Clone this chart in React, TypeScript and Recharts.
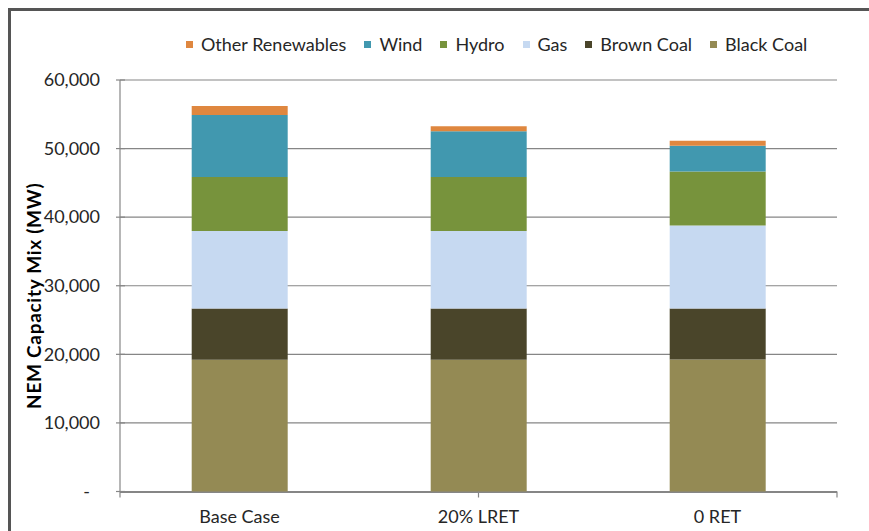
import { BarChart, Bar, XAxis, YAxis, CartesianGrid, Label } from "recharts";

const categories = ["Base Case", "20% LRET", "0 RET"];
const blackCoal = [19200, 19200, 19250];
const brownCoal = [7470, 7470, 7450];
const gas = [11330, 11330, 12070];
const hydro = [7840, 7840, 7890];
const wind = [9040, 6690, 3770];
const otherRenewables = [1320, 730, 710];
const yTicks = [0, 10000, 20000, 30000, 40000, 50000, 60000];
const separatorTicks = [0, 1, 2, 3];

// stack order bottom -> top
const series = [
  { key: "blackCoal", name: "Black Coal", values: blackCoal, color: "#948A54" },
  { key: "brownCoal", name: "Brown Coal", values: brownCoal, color: "#4A452A" },
  { key: "gas", name: "Gas", values: gas, color: "#C6D9F1" },
  { key: "hydro", name: "Hydro", values: hydro, color: "#77933C" },
  { key: "wind", name: "Wind", values: wind, color: "#4198AF" },
  { key: "other", name: "Other Renewables", values: otherRenewables, color: "#DF873F" },
];

const data = categories.map((name, i) => {
  const row: Record<string, string | number> = { name };
  series.forEach((s) => (row[s.key] = s.values[i]));
  return row;
});

const FONT = "Lato, 'Open Sans', sans-serif";
const AXIS_GRAY = "#868686";
const TEXT = "#262626";
const FS = 18;

const formatY = (v: number) => (v === 0 ? "-" : v.toLocaleString("en-US"));

// Excel style "cross" tick mark plus right-aligned label
function YTick(props: any) {
  const { x, y, payload } = props;
  const isZero = payload.value === 0;
  return (
    <g>
      <line x1={x + 16} x2={x + 25} y1={y} y2={y} stroke={AXIS_GRAY} strokeWidth={1.2} />
      <text
        x={x + (isZero ? -10 : 0)}
        y={y}
        dy="0.35em"
        textAnchor="end"
        fontFamily={FONT}
        fontSize={FS}
        fill={TEXT}
      >
        {formatY(payload.value)}
      </text>
    </g>
  );
}

function XTick(props: any) {
  const { x, y, payload } = props;
  return (
    <text x={x} y={y} dy="0.71em" textAnchor="middle" fontFamily={FONT} fontSize={FS} fill={TEXT}>
      {payload.value}
    </text>
  );
}

const NoLabel = () => <g />;

function YTitle(props: any) {
  const { viewBox } = props;
  const cx = viewBox.x + 13;
  const cy = viewBox.y + viewBox.height / 2 + 10;
  return (
    <text
      x={cx}
      y={cy}
      transform={`rotate(-90, ${cx}, ${cy})`}
      textAnchor="middle"
      dominantBaseline="central"
      fontFamily={FONT}
      fontWeight="bold"
      fontSize={19}
      letterSpacing={0.7}
      fill="#000"
    >
      NEM Capacity Mix (MW)
    </text>
  );
}

function ChartLegend() {
  // Excel lists the legend top of stack first
  const items = [...series].reverse();
  return (
    <div
      style={{
        position: "absolute",
        top: 33,
        left: 186,
        display: "flex",
        alignItems: "center",
        fontFamily: FONT,
        fontSize: FS,
        color: TEXT,
        whiteSpace: "nowrap",
      }}
    >
      {items.map((s) => (
        <div key={s.key} style={{ display: "flex", alignItems: "center", marginRight: 18 }}>
          <span style={{ width: 7, height: 7, background: s.color, marginRight: 8, display: "inline-block" }} />
          <span>{s.name}</span>
        </div>
      ))}
    </div>
  );
}

export default function App() {
  return (
    <div style={{ position: "absolute", left: 0, top: 0, width: 869, height: 531, background: "#fff", overflow: "hidden" }}>
      <div
        style={{
          position: "absolute",
          left: 8,
          top: 8,
          right: 0,
          bottom: 0,
          borderTop: "3px solid #555",
          borderLeft: "3px solid #555",
        }}
      />
      <ChartLegend />
      <div style={{ position: "absolute", left: 0, top: 0 }}>
        <BarChart
          width={869}
          height={531}
          data={data}
          margin={{ top: 80, right: 32, bottom: 0, left: 20 }}
          barCategoryGap="30%"
        >
          <CartesianGrid xAxisId="b" vertical={false} stroke={AXIS_GRAY} strokeWidth={1.2} />
          <XAxis
            xAxisId="a"
            type="number"
            domain={[0, 3]}
            ticks={separatorTicks}
            interval={0}
            tick={<NoLabel />}
            axisLine={false}
            tickLine={{ stroke: AXIS_GRAY, strokeWidth: 1.2 }}
            tickSize={6}
            height={1}
          />
          <XAxis
            xAxisId="b"
            dataKey="name"
            height={38.5}
            axisLine={{ stroke: AXIS_GRAY, strokeWidth: 1.2 }}
            tickLine={false}
            tickSize={0}
            tickMargin={18}
            tick={<XTick />}
          />
          <YAxis
            width={100}
            domain={[0, 60000]}
            ticks={yTicks}
            interval={0}
            axisLine={{ stroke: AXIS_GRAY, strokeWidth: 1.2 }}
            tickLine={false}
            tickSize={0}
            tickMargin={20}
            tick={<YTick />}
          >
            <Label content={<YTitle />} />
          </YAxis>
          {series.map((s) => (
            <Bar
              key={s.key}
              xAxisId="b"
              dataKey={s.key}
              name={s.name}
              stackId="mix"
              fill={s.color}
              isAnimationActive={false}
            />
          ))}
        </BarChart>
      </div>
    </div>
  );
}
